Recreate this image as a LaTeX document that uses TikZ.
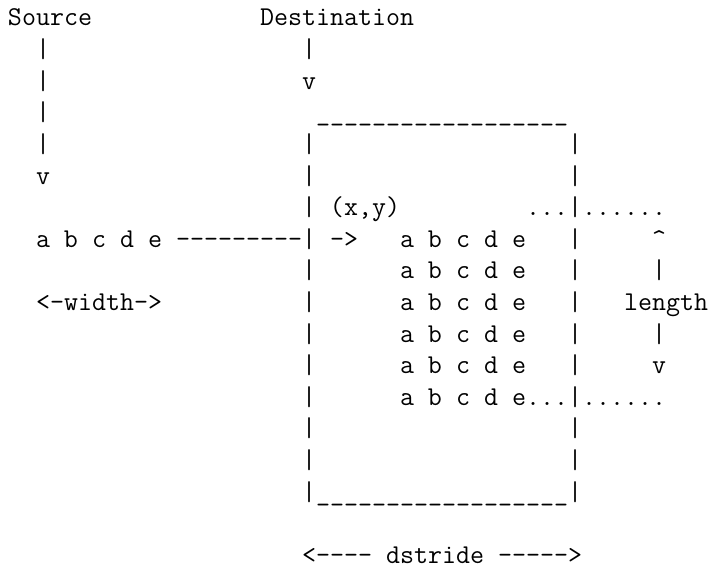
\documentclass[tikz,border=0pt]{standalone}
\newlength\cw
\newcommand\hy{-\kern0pt\relax}
\newcommand\us{\_\kern0pt\relax}
\begin{document}
\settowidth{\cw}{\ttfamily\fontsize{20}{24}\selectfont M}
\pgfmathsetmacro\fs{20*14/\cw}
\begin{tikzpicture}[x=1pt,y=1pt,
  txt/.style={anchor=base west, inner sep=0pt, outer sep=0pt,
    font=\ttfamily\fontsize{\fs}{\fs}\selectfont}]
\newcommand\seg[4]{\node[txt] (#1) at ({8+14*#3},{-(26+31.6*#2)}) {#4};}
\fill[white] (0,0) rectangle (708,-572);
\useasboundingbox (0,0) rectangle (708,-572);
% row 0
\seg{src}{0}{0}{Source}
\seg{dst}{0}{18}{Destination}
% source arrow
\seg{s1}{1}{2}{|}
\seg{s2}{2}{2}{|}
\seg{s3}{3}{2}{|}
\seg{s4}{4}{2}{|}
\seg{sv}{5}{2}{v}
% destination arrow
\seg{d1}{1}{21}{|}
\seg{dv}{2}{21}{v}
% box top
\seg{top}{3}{22}{\us\us\us\us\us\us\us\us\us\us\us\us\us\us\us\us\us\us}
\seg{l4}{4}{21}{|}
\seg{r4}{4}{40}{|}
\seg{l5}{5}{21}{|}
\seg{r5}{5}{40}{|}
% row 6
\seg{xy}{6}{21}{| (x,y)}
\seg{dots6}{6}{37}{...|......}
% row 7
\seg{srow}{7}{2}{a b c d e \hy\hy\hy\hy\hy\hy\hy\hy\hy| ->}
\seg{a7}{7}{28}{a b c d e}
\seg{r7}{7}{40}{|}
\seg{up}{7}{46}{\textasciicircum}
% row 8
\seg{l8}{8}{21}{|}
\seg{a8}{8}{28}{a b c d e}
\seg{r8}{8}{40}{|}
\seg{m8}{8}{46}{|}
% row 9
\seg{wid}{9}{2}{<-width->}
\seg{l9}{9}{21}{|}
\seg{a9}{9}{28}{a b c d e}
\seg{r9}{9}{40}{|}
\seg{len}{9}{44}{length}
% row 10
\seg{l10}{10}{21}{|}
\seg{a10}{10}{28}{a b c d e}
\seg{r10}{10}{40}{|}
\seg{m10}{10}{46}{|}
% row 11
\seg{l11}{11}{21}{|}
\seg{a11}{11}{28}{a b c d e}
\seg{r11}{11}{40}{|}
\seg{down}{11}{46}{v}
% row 12
\seg{l12}{12}{21}{|}
\seg{a12}{12}{28}{a b c d e...|......}
% rows 13-14
\seg{l13}{13}{21}{|}
\seg{r13}{13}{40}{|}
\seg{l14}{14}{21}{|}
\seg{r14}{14}{40}{|}
% box bottom
\seg{bot}{15}{21}{|\us\us\us\us\us\us\us\us\us\us\us\us\us\us\us\us\us\us|}
% dstride
\seg{ds}{17}{21}{<\hy\hy\hy\hy{} dstride \hy\hy\hy\hy\hy>}
\end{tikzpicture}
\end{document}
